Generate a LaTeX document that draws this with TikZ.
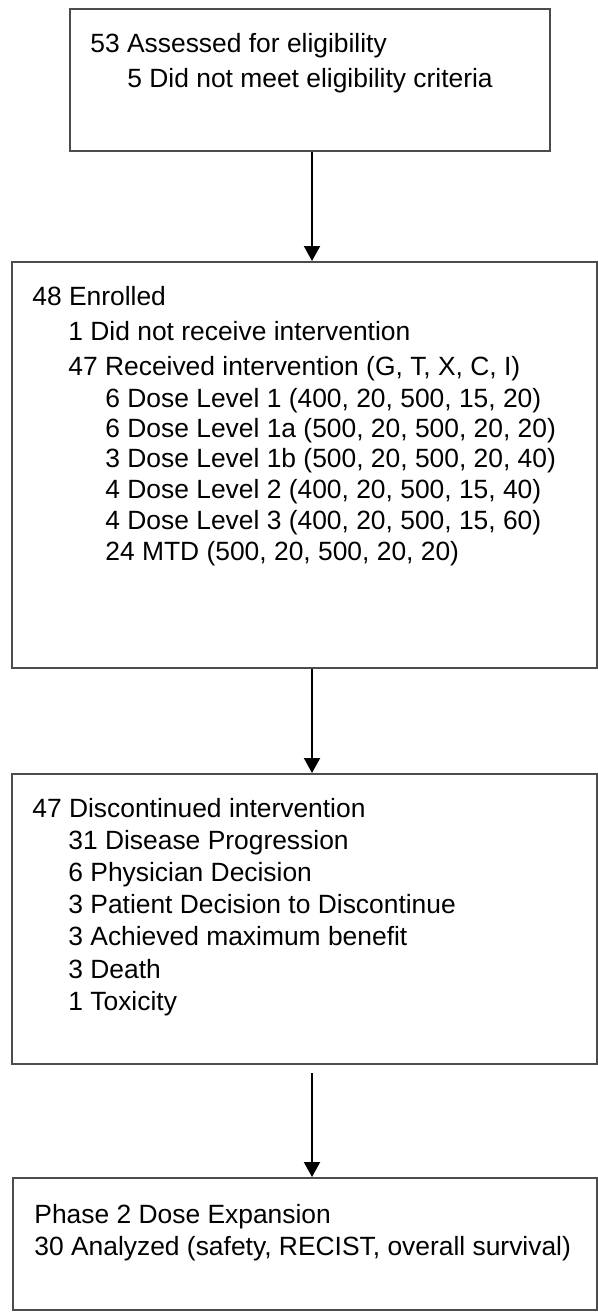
\documentclass[tikz,border=0pt]{standalone}
\usepackage{fontspec}
\setmainfont{Liberation Sans}
\usetikzlibrary{arrows.meta}
\tikzset{
  box/.style={draw=black!70, line width=1pt, inner sep=0pt},
  txt/.style={anchor=base west, inner sep=0pt, font=\fontsize{13.2}{15.8}\selectfont},
  arr/.style={line width=1pt, -{Triangle[width=8pt,length=7.5pt]}},
}

\begin{document}
\begin{tikzpicture}[x=0.5pt,y=-0.5pt]
			%%%%% START %%%%%
			\useasboundingbox (0,0) rectangle (598,1312);
			\coordinate (axis) at (312,0);
			
			\node[box, minimum width=240pt, minimum height=71pt] (assess) at (310,80) {};
			\node[txt] (assess1) at (90,52) {53 Assessed for eligibility};
			\node[txt] (assess2) at (127,87) {5 Did not meet eligibility criteria};
			
			\node[box, minimum width=292.5pt, minimum height=203pt] (enrol) at (304.5,465) {};
			\node[txt] (enrol1) at (32,305) {48 Enrolled};
			\node[txt] (enrol2) at (68,340) {1 Did not receive intervention};
			\node[txt] (enrol3) at (68,375) {47 Received intervention (G, T, X, C, I)};
			\node[txt] (dose1) at (105,407) {6 Dose Level 1 (400, 20, 500, 15, 20)};
			\node[txt] (dose2) at (105,437) {6 Dose Level 1a (500, 20, 500, 20, 20)};
			\node[txt] (dose3) at (105,467) {3 Dose Level 1b (500, 20, 500, 20, 40)};
			\node[txt] (dose4) at (105,498) {4 Dose Level 2 (400, 20, 500, 15, 40)};
			\node[txt] (dose5) at (105,529) {4 Dose Level 3 (400, 20, 500, 15, 60)};
			\node[txt] (dose6) at (105,560) {24 MTD (500, 20, 500, 20, 20)};
			
			\node[box, minimum width=292.5pt, minimum height=145pt] (disc) at (304.5,919) {};
			\node[txt] (disc1) at (32,817) {47 Discontinued intervention};
			\node[txt] (disc2) at (68,849) {31 Disease Progression};
			\node[txt] (disc3) at (68,881) {6 Physician Decision};
			\node[txt] (disc4) at (68,913) {3 Patient Decision to Discontinue};
			\node[txt] (disc5) at (68,945) {3 Achieved maximum benefit};
			\node[txt] (disc6) at (68,978) {3 Death};
			\node[txt] (disc7) at (68,1010) {1 Toxicity};
			
			\node[box, minimum width=292pt, minimum height=66pt] (phase) at (305,1244) {};
			\node[txt] (phase1) at (34,1223) {Phase 2 Dose Expansion};
			\node[txt] (phase2) at (34,1255) {30 Analyzed (safety, RECIST, overall survival)};
			
			\draw[arr] (assess.south -| axis) -- (enrol.north -| axis);
			\draw[arr] (enrol.south -| axis) -- (disc.north -| axis);
			\draw[arr, shorten <=4pt] (disc.south -| axis) -- (phase.north -| axis);
			
			%%%%% END %%%%%
\end{tikzpicture}
\end{document}
